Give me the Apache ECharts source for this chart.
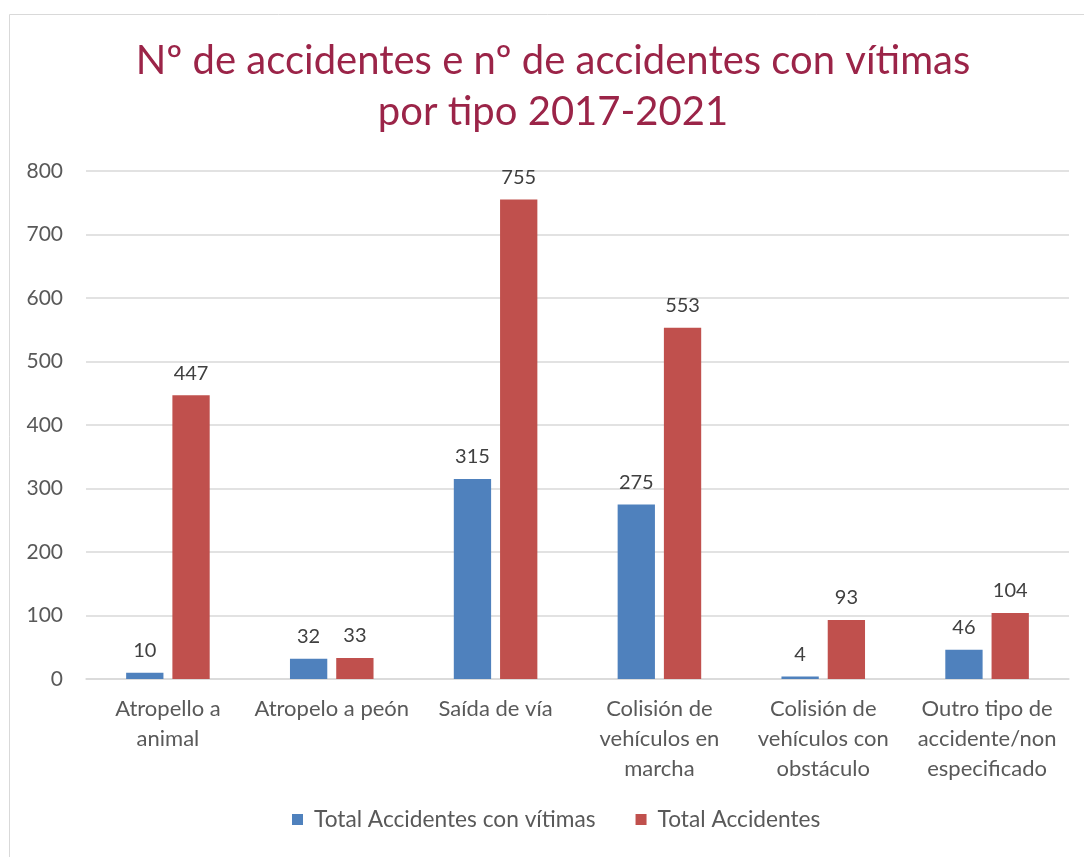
<!DOCTYPE html>
<html><head><meta charset="utf-8">
<script src="https://cdn.jsdelivr.net/npm/echarts@6/dist/echarts.min.js"></script>
<style>html,body{margin:0;padding:0;background:#fff}#c{width:1084px;height:857px}</style>
</head><body><div id="c"></div>
<script>
const categories = ["Atropello a\nanimal", "Atropelo a peón", "Saída de vía", "Colisión de\nvehículos en\nmarcha", "Colisión de\nvehículos con\nobstáculo", "Outro tipo de\naccidente/non\nespecificado"];
const seriesNames = ["Total Accidentes con vítimas", "Total Accidentes"];
const victimAccidents = [10, 32, 315, 275, 4, 46];
const totalAccidents = [447, 33, 755, 553, 93, 104];
const yTicks = [0, 100, 200, 300, 400, 500, 600, 700, 800];

const font = "Lato, 'Open Sans', sans-serif";
const chart = echarts.init(document.getElementById('c'));
chart.setOption({
  animation: false,
  textStyle: {fontFamily: font},
  graphic: [{type: 'rect', shape: {x: 9.5, y: 14.5, width: 1200, height: 1000}, style: {fill: 'none', stroke: '#d9d9d9', lineWidth: 1}, silent: true}],
  title: {
    text: 'Nº de accidentes e nº de accidentes con vítimas\npor tipo 2017-2021',
    left: 548, top: 31, textAlign: 'center',
    textStyle: {fontFamily: font, fontSize: 40, fontWeight: 'normal', color: '#9b2448', lineHeight: 51}
  },
  legend: {
    data: seriesNames, bottom: 21, left: 287,
    itemWidth: 11, itemHeight: 11, itemGap: 40,
    icon: 'rect',
    textStyle: {fontFamily: font, fontSize: 22.7, color: '#595959', padding: [0, 0, 0, 6]}
  },
  grid: {left: 86, right: 15, top: 171, bottom: 178, containLabel: false},
  xAxis: {
    type: 'category', data: categories,
    axisLine: {lineStyle: {color: '#d9d9d9', width: 1.5}},
    axisTick: {show: false},
    axisLabel: {fontFamily: font, fontSize: 22, color: '#595959', lineHeight: 30, margin: 15, interval: 0}
  },
  yAxis: {
    type: 'value', min: yTicks[0], max: yTicks[yTicks.length - 1], interval: 100,
    axisLine: {show: false}, axisTick: {show: false},
    splitLine: {lineStyle: {color: '#d9d9d9', width: 1.5}},
    axisLabel: {fontFamily: font, fontSize: 21, color: '#595959', margin: 23}
  },
  series: [
    {name: seriesNames[0], type: 'bar', data: victimAccidents, barGap: '24%', barCategoryGap: '49%',
     itemStyle: {color: '#4f81bd'},
     label: {show: true, position: 'top', distance: 12, fontFamily: font, fontSize: 20, color: '#404040'}},
    {name: seriesNames[1], type: 'bar', data: totalAccidents,
     itemStyle: {color: '#c0504d'},
     label: {show: true, position: 'top', distance: 12, fontFamily: font, fontSize: 20, color: '#404040'}}
  ]
});
</script></body></html>
